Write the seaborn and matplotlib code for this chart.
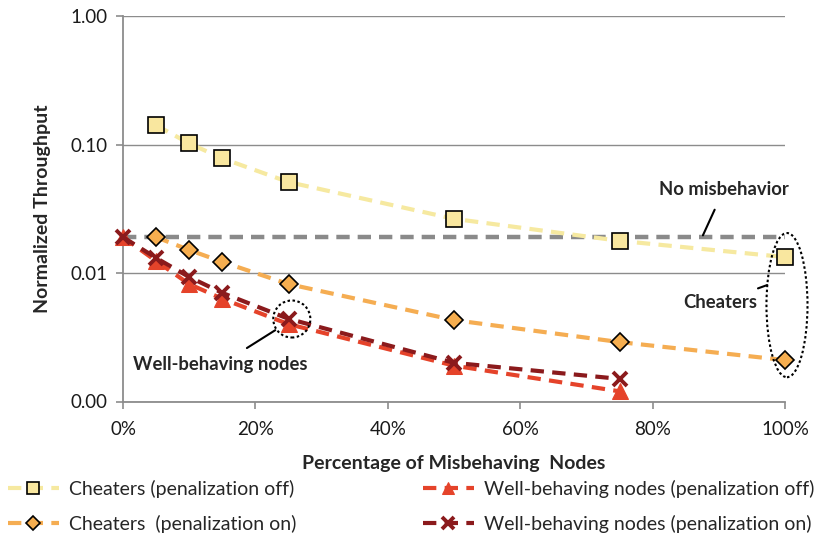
import matplotlib
matplotlib.use("Agg")
import matplotlib.pyplot as plt
from matplotlib.patches import Ellipse
from matplotlib.ticker import FixedLocator, FixedFormatter, NullLocator
import seaborn as sns

# Percentage of misbehaving nodes
x_cheaters = [5, 10, 15, 25, 50, 75, 100]
x_wellbehaving = [0, 5, 10, 15, 25, 50, 75]

# Normalized throughput
cheaters_off = [0.141, 0.102, 0.078, 0.051, 0.0264, 0.0178, 0.0133]
cheaters_on = [0.0190, 0.0151, 0.0122, 0.0082, 0.0043, 0.0029, 0.0021]
wellbehaving_off = [0.0190, 0.0124, 0.0082, 0.0063, 0.0040, 0.0019, 0.0012]
wellbehaving_on = [0.0190, 0.0131, 0.0093, 0.0070, 0.0044, 0.0020, 0.0015]

no_misbehavior_x = [0, 100]
no_misbehavior_y = [0.0191, 0.0191]

y_ticks = [0.001, 0.01, 0.1, 1.0]
y_tick_labels = ["0.00", "0.01", "0.10", "1.00"]
x_ticks = [0, 20, 40, 60, 80, 100]
x_tick_labels = ["0%", "20%", "40%", "60%", "80%", "100%"]

labels = [
    "Cheaters (penalization off)",
    "Cheaters  (penalization on)",
    "Well-behaving nodes (penalization off)",
    "Well-behaving nodes (penalization on)",
]

sns.set_theme(style="white")
plt.rcParams["font.family"] = ["Lato", "DejaVu Sans"]
plt.rcParams["axes.unicode_minus"] = False

W, H = 821, 542
fig = plt.figure(figsize=(W / 100, H / 100), dpi=100)
ax = fig.add_axes([123 / W, 1 - 401.5 / H, 662 / W, 385.5 / H])

dash = (0, (3.2, 2.0))

sns.lineplot(x=no_misbehavior_x, y=no_misbehavior_y, ax=ax, color="#8a8a8a",
             linewidth=3.2, linestyle=(0, (3.0, 1.8)), zorder=2, clip_on=False)

sns.lineplot(x=x_cheaters, y=cheaters_off, ax=ax, color="#f6e9a0",
             linewidth=3.0, linestyle=dash, marker="s", markersize=11.5,
             markerfacecolor="#f9e79f", markeredgecolor="black",
             markeredgewidth=1.2, label=labels[0], zorder=3, clip_on=False)
sns.lineplot(x=x_cheaters, y=cheaters_on, ax=ax, color="#f5ad52",
             linewidth=3.0, linestyle=dash, marker="D", markersize=9.5,
             markerfacecolor="#f6ae4f", markeredgecolor="black",
             markeredgewidth=1.2, label=labels[1], zorder=3, clip_on=False)
sns.lineplot(x=x_wellbehaving, y=wellbehaving_off, ax=ax, color="#e5432a",
             linewidth=3.0, linestyle=dash, marker="^", markersize=11,
             markerfacecolor="#e5432a", markeredgecolor="#e5432a",
             label=labels[2], zorder=4, clip_on=False)
sns.lineplot(x=x_wellbehaving, y=wellbehaving_on, ax=ax, color="#8b1a1c",
             linewidth=3.0, linestyle=dash, marker="x", markersize=10,
             markeredgewidth=2.8, markeredgecolor="#8b1a1c",
             label=labels[3], zorder=5, clip_on=False)

ax.set_yscale("log")
ax.set_ylim(0.001, 1.0)
ax.set_xlim(0, 100)
ax.yaxis.set_major_locator(FixedLocator(y_ticks))
ax.yaxis.set_major_formatter(FixedFormatter(y_tick_labels))
ax.yaxis.set_minor_locator(NullLocator())
ax.set_xticks(x_ticks)
ax.set_xticklabels(x_tick_labels)

ax.grid(axis="y", color="#8c8c8c", linewidth=1.0)
ax.grid(axis="x", visible=False)
for side in ["top", "right"]:
    ax.spines[side].set_visible(False)
for side in ["left", "bottom"]:
    ax.spines[side].set_color("#8c8c8c")
    ax.spines[side].set_linewidth(1.3)
ax.tick_params(axis="both", which="major", direction="out", length=5,
               width=1.2, color="#8c8c8c", labelsize=13.5, labelcolor="#1a1a1a",
               bottom=True, left=True)
ax.tick_params(axis="x", pad=9)
ax.tick_params(axis="y", pad=6)

ax.set_xlabel("Percentage of Misbehaving  Nodes", fontsize=14,
              fontweight="bold", labelpad=12)
ax.set_ylabel("Normalized Throughput", fontsize=14, fontweight="bold",
              labelpad=14)

# Callouts
ax.annotate("No misbehavior", xy=(0.876, 0.431), xytext=(0.908, 0.551),
            xycoords="axes fraction", textcoords="axes fraction",
            ha="center", va="center", fontsize=13.3, fontweight="bold",
            arrowprops=dict(arrowstyle="-", color="black", lw=1.5,
                            shrinkA=7, shrinkB=0))
ax.annotate("Cheaters", xy=(0.973, 0.302), xytext=(0.902, 0.258),
            xycoords="axes fraction", textcoords="axes fraction",
            ha="center", va="center", fontsize=13.3, fontweight="bold",
            arrowprops=dict(arrowstyle="-", color="black", lw=1.5,
                            shrinkA=4, shrinkB=0))
ax.annotate("Well-behaving nodes", xy=(0.230, 0.185), xytext=(0.1465, 0.0947),
            xycoords="axes fraction", textcoords="axes fraction",
            ha="center", va="center", fontsize=13.3, fontweight="bold",
            arrowprops=dict(arrowstyle="-", color="black", lw=1.5,
                            shrinkA=7, shrinkB=0))

ax.add_patch(Ellipse((1.003, 0.250), 0.062, 0.374, transform=ax.transAxes,
                     fill=False, edgecolor="black", linestyle=(0, (1.2, 1.2)),
                     linewidth=1.5, clip_on=False, zorder=6))
ax.add_patch(Ellipse((0.255, 0.214), 0.056, 0.096, transform=ax.transAxes,
                     fill=False, edgecolor="black", linestyle=(0, (1.2, 1.2)),
                     linewidth=1.5, clip_on=False, zorder=6))

# Legend below the plot: cheaters in the left column, well-behaving nodes on the right
handles, lbls = ax.get_legend_handles_labels()
ax.get_legend().remove()
legend_kw = dict(loc="upper left", frameon=False, fontsize=14, handlelength=2.6,
                 handletextpad=0.55, labelspacing=0.85, borderaxespad=0.0,
                 borderpad=0.0, markerscale=0.8)
fig.legend(handles[:2], lbls[:2], bbox_to_anchor=(8 / W, 1 - 480 / H), **legend_kw)
fig.legend(handles[2:], lbls[2:], bbox_to_anchor=(423 / W, 1 - 480 / H), **legend_kw)

fig.savefig("out.png", dpi=100)
